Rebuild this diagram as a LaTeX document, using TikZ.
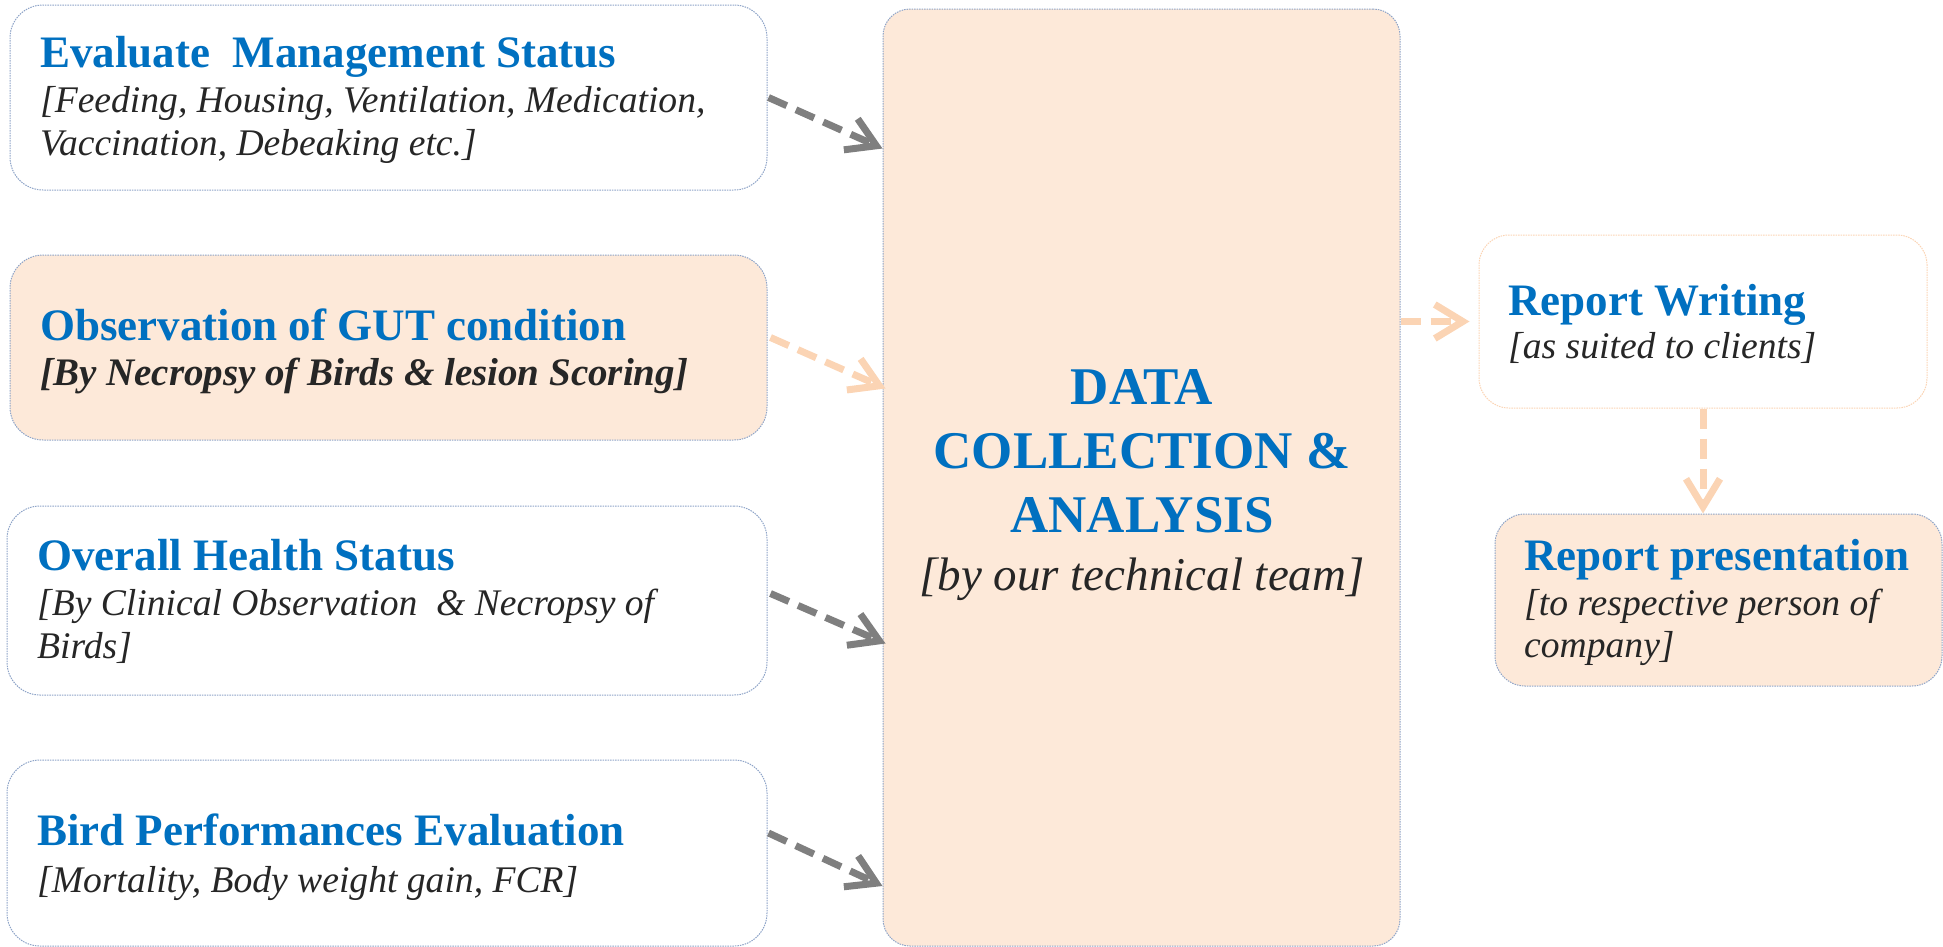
\documentclass[tikz,border=0pt]{standalone}
\usepackage{fontspec}
\setmainfont{Liberation Serif}
\usetikzlibrary{arrows.meta,calc}
\definecolor{tblue}{HTML}{0070C0}
\definecolor{tdark}{HTML}{262626}
\definecolor{peachfill}{HTML}{FDE9D9}
\definecolor{peachline}{HTML}{FBD4B4}
\definecolor{greyline}{HTML}{7F7F7F}
\definecolor{boxline}{HTML}{8EA4C8}
\tikzset{
  boxbase/.style={draw=boxline, line width=1pt, dash pattern=on 1.5pt off 1pt, inner sep=0pt, rounded corners=33pt},
  whitebox/.style={boxbase, fill=white},
  peachbox/.style={boxbase, fill=peachfill},
  ttl/.style={text=tblue, font=\fontsize{45}{52}\selectfont\bfseries, anchor=base west, inner sep=0pt},
  sub/.style={text=tdark, font=\fontsize{37.6}{43}\selectfont\itshape, anchor=base west, inner sep=0pt},
  bigttl/.style={text=tblue, font=\fontsize{53}{64}\selectfont\bfseries, anchor=base, inner sep=0pt},
  bigsub/.style={text=tdark, font=\fontsize{47}{54}\selectfont\itshape, anchor=base, inner sep=0pt},
  flow/.style={line width=7pt, dash pattern=on 20pt off 10pt, -{Straight Barb[length=28pt,width=34pt]}},
  greyflow/.style={flow, draw=greyline},
  peachflow/.style={flow, draw=peachline},
}
\begin{document}
\begin{tikzpicture}[x=1pt, y=-1pt]
\useasboundingbox (0,0) rectangle (1943,946);
% boxes
\node[whitebox, minimum width=757pt, minimum height=185pt] (b1) at (388.5,97.5) {};
\node[peachbox, minimum width=757pt, minimum height=185pt] (b2) at (388.5,347.5) {};
\node[whitebox, minimum width=760pt, minimum height=189pt] (b3) at (387,600.5) {};
\node[whitebox, minimum width=760pt, minimum height=186pt] (b4) at (387,853) {};
\node[peachbox, rounded corners=27pt, minimum width=517pt, minimum height=937pt] (center) at (1141.5,477.5) {};
\node[whitebox, draw=peachline, rounded corners=30pt, minimum width=448pt, minimum height=173pt] (rw) at (1703,321.5) {};
\node[peachbox, rounded corners=30pt, minimum width=447pt, minimum height=172pt] (rp) at (1718.5,600) {};
% texts
\node[ttl] (t1) at (40,67) {Evaluate\ \ Management Status};
\node[sub] (t1a) at (40,112) {[Feeding, Housing, Ventilation, Medication,};
\node[sub] (t1b) at (40,155) {Vaccination, Debeaking etc.]};
\node[ttl] (t2) at (40,340) {Observation of GUT condition};
\node[sub, font=\fontsize{39}{43}\selectfont\bfseries\itshape] (t2a) at (40,385) {[By Necropsy of Birds \& lesion Scoring]};
\node[ttl] (t3) at (37,570) {Overall Health Status};
\node[sub] (t3a) at (37,615) {[By Clinical Observation\ \ \& Necropsy of};
\node[sub] (t3b) at (37,658) {Birds]};
\node[ttl] (t4) at (37,845) {Bird Performances Evaluation};
\node[sub] (t4a) at (37,892) {[Mortality, Body weight gain, FCR]};
\node[bigttl] (c1) at (1142,404) {DATA};
\node[bigttl] (c2) at (1142,468) {COLLECTION \&};
\node[bigttl] (c3) at (1142,532) {ANALYSIS};
\node[bigsub] (c4) at (1142,590) {[by our technical team]};
\node[ttl] (r1) at (1508,315) {Report Writing};
\node[sub] (r1a) at (1508,358) {[as suited to clients]};
\node[ttl] (p1) at (1524,570) {Report presentation};
\node[sub] (p1a) at (1524,615) {[to respective person of};
\node[sub] (p1b) at (1524,657) {company]};
% connectors
\coordinate (s1) at ($(b1.east)+(1,0)$);
\coordinate (s2) at ($(b2.east)+(3,-10)$);
\coordinate (s3) at ($(b3.east)+(3,-7)$);
\coordinate (s4) at ($(b4.east)+(1,-20)$);
\draw[greyflow] (s1) -- ($(s1 -| center.west)+(0,51)$);
\draw[peachflow] (s2) -- ($(s2 -| center.west)+(3,51)$);
\draw[greyflow] (s3) -- ($(s3 -| center.west)+(3,50)$);
\draw[greyflow] (s4) -- ($(s4 -| center.west)+(0,53)$);
\draw[peachflow, shorten >=9pt] (center.east |- rw.west) -- (rw.west);
\draw[peachflow] (rw.south) -- (rw.south |- rp.north);
\end{tikzpicture}
\end{document}
